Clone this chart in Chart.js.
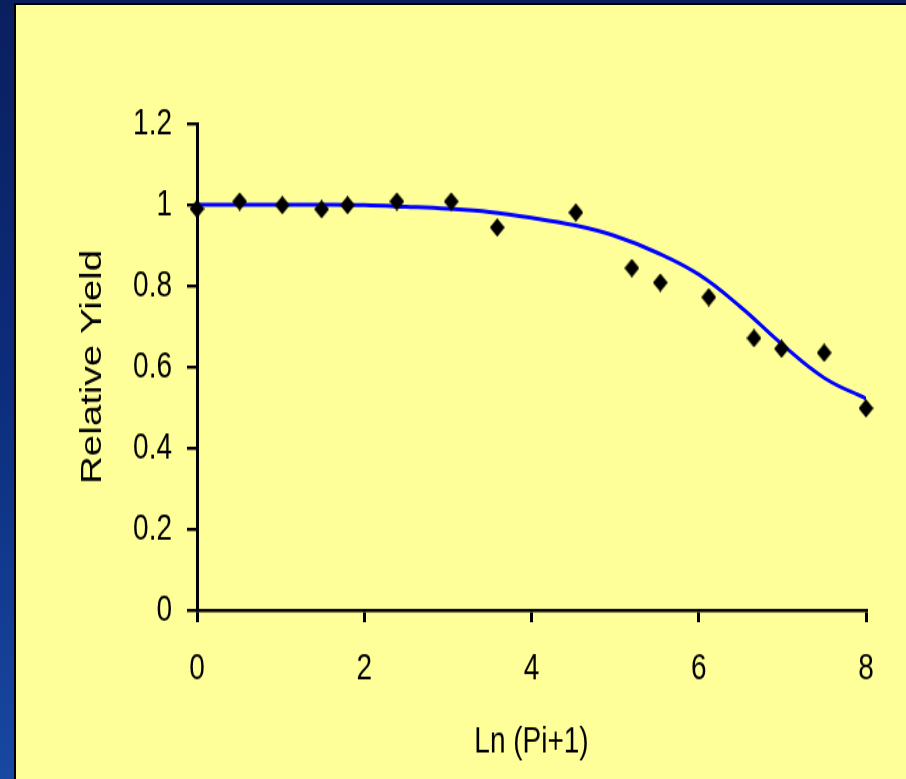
<!DOCTYPE html>
<html>
<head>
<meta charset="utf-8">
<script src="https://cdn.jsdelivr.net/npm/chart.js@4"></script>
<style>
  html, body { margin: 0; padding: 0; }
  body {
    width: 906px; height: 779px; overflow: hidden; position: relative;
    background: linear-gradient(to bottom, #0a1f5e 0%, #0c2d7c 50%, #1848a2 100%);
  }
  #panel {
    position: absolute; left: 14px; top: 3px; width: 920px; height: 800px;
    background: #ffff99; border-left: 2px solid #000; border-top: 2px solid #000;
  }
  /* the original picture is stretched vertically, so the chart is drawn short and scaled up */
  #wrap {
    position: absolute; left: 0; top: 0; width: 906px; height: 586px;
    transform: scaleY(1.3294); transform-origin: 0 0;
  }
</style>
</head>
<body>
<div id="panel"></div>
<div id="wrap"><canvas id="chart"></canvas></div>
<script>
// measured points
const pointX = [0, 0.51, 1.02, 1.49, 1.8, 2.39, 3.04, 3.59, 4.53, 5.2, 5.54, 6.12, 6.66, 6.99, 7.5, 8.0];
const pointY = [0.99, 1.008, 0.999, 0.989, 0.999, 1.008, 1.008, 0.944, 0.981, 0.844, 0.808, 0.772, 0.671, 0.645, 0.635, 0.498];

// fitted curve
const curveX = [0, 0.5, 1, 1.5, 2, 2.5, 3, 3.5, 4, 4.5, 5, 5.5, 6, 6.5, 7, 7.5, 8];
const curveY = [1.0, 1.0, 1.0, 1.0, 0.999, 0.995, 0.99, 0.982, 0.968, 0.95, 0.923, 0.882, 0.828, 0.748, 0.655, 0.573, 0.522];

const xTickLabels = ['0', '2', '4', '6', '8'];
const yTickLabels = ['0', '0.2', '0.4', '0.6', '0.8', '1', '1.2'];

const FONT = "'Liberation Sans', Arial, sans-serif";

// diamond marker
function diamond(w, h) {
  const c = document.createElement('canvas');
  c.width = w; c.height = h;
  const g = c.getContext('2d');
  g.fillStyle = '#000';
  g.beginPath();
  g.moveTo(w / 2, 0);
  g.lineTo(w, h / 2);
  g.lineTo(w / 2, h);
  g.lineTo(0, h / 2);
  g.closePath();
  g.fill();
  return c;
}

const ctx = document.getElementById('chart').getContext('2d');
new Chart(ctx, {
  type: 'scatter',
  data: {
    datasets: [{
      label: 'Observed',
      data: pointX.map((x, i) => ({ x: x, y: pointY[i] })),
      pointStyle: diamond(15, 14),
      pointRadius: 7,
      order: 1,
      clip: false
    }, {
      label: 'Fit',
      data: curveX.map((x, i) => ({ x: x, y: curveY[i] })),
      showLine: true,
      borderColor: '#0000ff',
      borderWidth: 3,
      pointRadius: 0,
      tension: 0.4,
      order: 2
    }]
  },
  options: {
    responsive: true,
    maintainAspectRatio: false,
    animation: false,
    layout: { padding: { top: 93, right: 40, bottom: 7, left: 0 } },
    plugins: { legend: { display: false }, tooltip: { enabled: false } },
    scales: {
      x: {
        type: 'linear', min: 0, max: 8,
        afterFit: s => { s.height = 120; },
        ticks: {
          stepSize: 2, padding: 18, color: '#000',
          font: { family: FONT, size: 28 },
          callback: (v) => xTickLabels[Math.round(v / 2)]
        },
        grid: { drawOnChartArea: false, drawTicks: true, tickLength: 9, color: '#000', lineWidth: 3 },
        border: { display: true, color: '#000', width: 2.6 },
        title: { display: true, text: 'Ln (Pi+1)', color: '#000', font: { family: FONT, size: 28 }, padding: { top: 0, bottom: 4 } }
      },
      y: {
        type: 'linear', min: 0, max: 1.2,
        afterFit: s => { s.width = 197; },
        ticks: {
          stepSize: 0.2, padding: 15, color: '#000',
          font: { family: FONT, size: 28 },
          callback: (v) => yTickLabels[Math.round(v / 0.2)]
        },
        grid: { drawOnChartArea: false, drawTicks: true, tickLength: 10, color: '#000', lineWidth: 2.4 },
        border: { display: true, color: '#000', width: 3 },
        title: { display: true, text: 'Relative Yield', color: '#000', font: { family: FONT, size: 29 }, padding: { top: 76, bottom: 0 } }
      }
    }
  }
});
</script>
</body>
</html>
